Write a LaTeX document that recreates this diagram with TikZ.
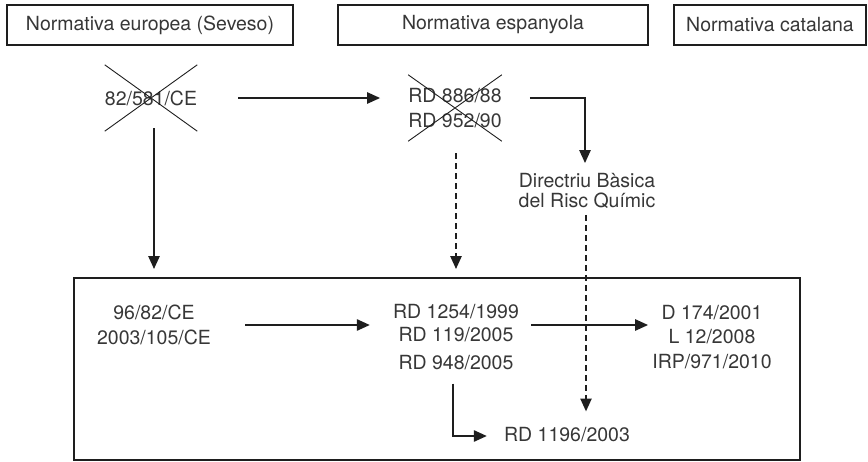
\documentclass[tikz,border=0pt]{standalone}
\usepackage{fontspec}
\setmainfont{TeX Gyre Heros}
\usetikzlibrary{arrows.meta,calc}
\definecolor{ink}{RGB}{30,30,30}
\definecolor{txt}{RGB}{55,55,55}
\begin{document}
\begin{tikzpicture}[x=1pt,y=-1pt,
  every node/.style={font=\fontsize{19.5}{24.5}\selectfont, text=txt, inner sep=0pt},
  hbox/.style={draw=ink, line width=1.8pt, minimum height=40pt},
  arr/.style={draw=ink, line width=2.4pt, -{Triangle[length=13pt,width=11pt]}},
  darr/.style={arr, dash pattern=on 6pt off 4pt},
  xbox/.style={minimum width=88pt, minimum height=66pt},
  xline/.style={draw=ink, line width=0.9pt}]
\useasboundingbox (0,0) rectangle (868,461);
% header boxes
\node[hbox, minimum width=286pt] (h1) at (150,25) {Normativa europea (Seveso)};
\node[hbox, minimum width=310pt] (h2) at (493,25) {Normativa espanyola};
\node[hbox, minimum width=192pt] (h3) at (770,25) {Normativa catalana};
% repealed texts
\node[xbox] (eu0) at (151,98) {\raisebox{-3pt}{82/581/CE}};
\draw[xline] (eu0.north west) -- (eu0.south east) (eu0.south west) -- (eu0.north east);
\node[xbox, minimum height=66pt, align=center] (es0) at (455,108) {RD 886/88\\RD 952/90};
\draw[xline] (es0.north west) -- (es0.south east) (es0.south west) -- (es0.north east);
\node[align=center, font=\fontsize{19.5}{20}\selectfont] (dir) at (587,191) {Directriu Bàsica\\del Risc Químic};
% current texts
\node[draw=ink, line width=1.8pt, minimum width=726pt, minimum height=182pt] (main) at (437,369) {};
\node[align=center] (e2) at (154,325) {96/82/CE\\2003/105/CE};
\node[align=center] (s2) at (456,337.5) {RD 1254/1999\\[-1.5pt]RD 119/2005\\[3.5pt]RD 948/2005};
\node[align=center] (c2) at (712,337) {D 174/2001\\L 12/2008\\IRP/971/2010};
\node (s3) at (567,435) {RD 1196/2003};
% connectors
\draw[arr] ($(eu0.south -| e2.north)+(0,-3)$) -- ($(main.north -| e2.north)+(0,-8)$);
\draw[arr] ($(eu0.east)+(41,0)$) -- ($(eu0.east -| es0.west)+(-28,0)$);
\draw[arr] ($(es0.east |- eu0.east)+(28,0)$) -| ($(dir.north)+(-2,-10)$);
\draw[darr] ($(dir.south)+(-1,6)$) -- ($(dir.south |- s3.north)+(-1,-16)$);
\draw[darr] ($(es0.south -| s2.north)+(0,12)$) -- ($(main.north -| s2.north)+(0,-8)$);
\draw[arr] ($(e2.east)+(34,0)$) -- ($(e2.east -| s2.west)+(-23,0)$);
\draw[arr] ($(s2.east |- e2.east)+(12,0)$) -- ($(e2.east -| c2.west)+(-4,0)$);
\draw[arr] ($(s2.south)+(-3,13)$) |- ($(s3.west)+(-17,1)$);
\end{tikzpicture}
\end{document}
